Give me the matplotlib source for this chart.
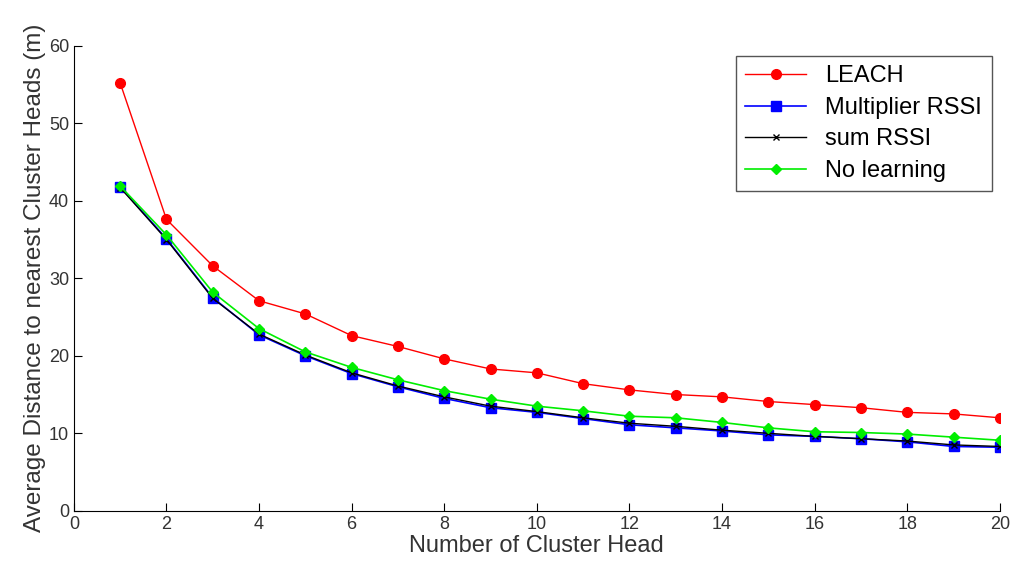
import numpy as np
import matplotlib.pyplot as plt

plt.rcParams['font.family'] = ['Liberation Sans', 'DejaVu Sans']

# number of cluster heads
k = np.arange(1, 21)

# average distance to nearest cluster head (m)
leach = [55.2, 37.6, 31.6, 27.1, 25.4, 22.6, 21.2, 19.6, 18.3, 17.8,
         16.4, 15.6, 15.0, 14.7, 14.1, 13.7, 13.3, 12.7, 12.5, 12.0]
mult_rssi = [41.8, 35.1, 27.5, 22.7, 20.0, 17.7, 16.0, 14.5, 13.3, 12.7,
             11.9, 11.1, 10.7, 10.3, 9.8, 9.6, 9.3, 8.9, 8.3, 8.2]
sum_rssi = [41.7, 35.0, 27.4, 22.8, 20.1, 17.8, 16.1, 14.7, 13.5, 12.8,
            12.0, 11.3, 10.9, 10.4, 10.0, 9.6, 9.3, 9.0, 8.5, 8.3]
no_learning = [41.9, 35.6, 28.2, 23.5, 20.5, 18.5, 16.9, 15.5, 14.4, 13.5,
               12.9, 12.2, 12.0, 11.4, 10.7, 10.2, 10.1, 9.9, 9.5, 9.1]

fig = plt.figure(figsize=(10.12, 5.72), dpi=100)
ax = fig.add_axes([0.073, 0.107, 0.915, 0.813])

ax.plot(k, leach, color='red', marker='o', markersize=7, linewidth=1, label='LEACH')
ax.plot(k, mult_rssi, color='blue', marker='s', markersize=7, linewidth=1.2, label='Multiplier RSSI')
ax.plot(k, sum_rssi, color='black', marker='x', markersize=4, linewidth=1, label='sum RSSI')
ax.plot(k, no_learning, color='#00ee00', marker='D', markersize=5, linewidth=1.2, label='No learning')

ax.set_xlim(0, 20)
ax.set_ylim(0, 60)
ax.set_xticks(range(0, 21, 2))
ax.set_yticks(range(0, 61, 10))
ax.spines['top'].set_visible(False)
ax.spines['right'].set_visible(False)
ax.tick_params(direction='in', length=6, labelsize=13, colors='black', labelcolor='#333333')

ax.set_xlabel('Number of Cluster Head', fontsize=17, color='#333333', labelpad=2)
ax.set_ylabel('Average Distance to nearest Cluster Heads (m)', fontsize=17.5,
              color='#333333', labelpad=2)

leg = ax.legend(loc='upper right', fontsize=17, fancybox=False, framealpha=1,
                edgecolor='#555555', handlelength=2.6, borderpad=0.4,
                labelspacing=0.4, borderaxespad=0, bbox_to_anchor=(0.991, 0.978))

plt.savefig('out.png', dpi=100)
